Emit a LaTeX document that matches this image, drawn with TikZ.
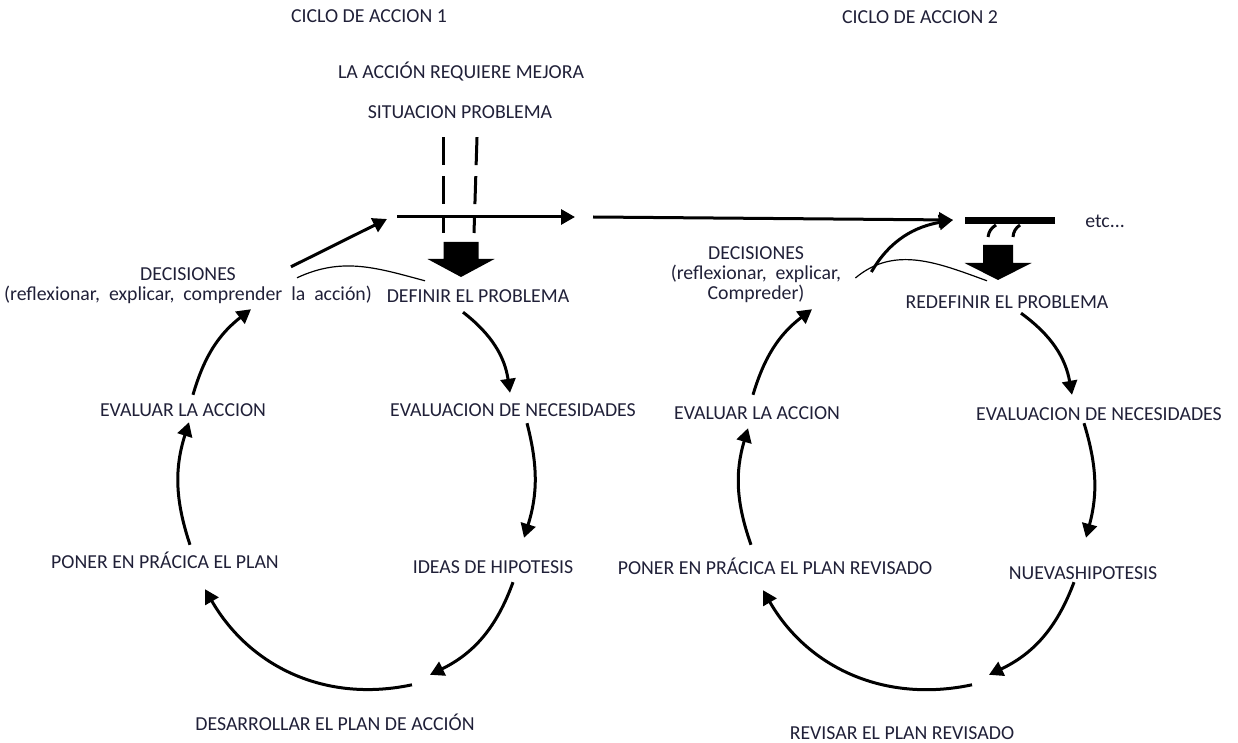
\documentclass[tikz,border=0pt]{standalone}
\usepackage{fontspec}
\setmainfont{Carlito}
\usetikzlibrary{arrows.meta}
\definecolor{ink}{RGB}{32,32,56}
\begin{document}
\begin{tikzpicture}[x=1pt,y=1pt,
        lbl/.style={inner sep=0pt, text height=12pt, text depth=0pt, font=\fontsize{19.8}{20}\selectfont, text=ink},
        declbl/.style={inner sep=0pt, align=center, font=\fontsize{19.8}{20}\selectfont, text=ink},
        cyc/.style={line width=3pt, -{Triangle[length=14pt,width=15pt]}},
        thinline/.style={line width=1.2pt},
        guide/.style={line width=3pt, dash pattern=on 28pt off 11pt}
    ]
        \useasboundingbox (0,0) rectangle (1238,742);

        \node[lbl] (tit1) at (369,725) {CICLO DE ACCION 1};
        \node[lbl] (tit2) at (920,724) {CICLO DE ACCION 2};
        \node[lbl] (mejora) at (461,669) {LA ACCIÓN REQUIERE MEJORA};
        \node[lbl] (sitprob) at (460,629) {SITUACION PROBLEMA};

        \node[declbl] (dec1) at (188,456) {DECISIONES\\(reflexionar,\ \ explicar,\ \ comprender\ \ la\ \ acción)};
        \node[lbl] (def) at (478,445) {DEFINIR EL PROBLEMA};
        \node[lbl] (eval1) at (513,331) {EVALUACION DE NECESIDADES};
        \node[lbl] (ideas) at (493,175) {IDEAS DE HIPOTESIS};
        \node[lbl] (desarr) at (335,18) {DESARROLLAR EL PLAN DE ACCIÓN};
        \node[lbl] (poner1) at (165,180) {PONER EN PRÁCICA EL PLAN};
        \node[lbl] (evalu1) at (183,331) {EVALUAR LA ACCION};

        \node[declbl] (dec2) at (756,467) {DECISIONES\\(reflexionar,\ \ explicar,\\Compreder)};
        \node[lbl] (redef) at (1007,439) {REDEFINIR EL PROBLEMA};
        \node[lbl] (eval2) at (1099,327) {EVALUACION DE NECESIDADES};
        \node[lbl] (nuevas) at (1083,169) {NUEVASHIPOTESIS};
        \node[lbl] (revisar) at (902,9) {REVISAR EL PLAN REVISADO};
        \node[lbl] (poner2) at (775,174) {PONER EN PRÁCICA EL PLAN REVISADO};
        \node[lbl] (evalu2) at (757,328) {EVALUAR LA ACCION};
        \node[lbl] (etc) at (1105,520) {etc...};

        \coordinate (hz1a) at (397,525);
        \coordinate (hz1b) at (575,525);
        \coordinate (hz2a) at (593,525);
        \coordinate (hz2b) at (953,522);
        \coordinate (blk1) at (461,500);
        \coordinate (blk2) at (998,497);

        \fill (blk1) ++(-17.5,0) -- ++(35,0) -- ++(0,-17) -- ++(16,0) -- ++(-33.5,-18) -- ++(-33.5,18) -- ++(16,0) -- cycle;
        \fill (blk2) ++(-15,0) -- ++(30,0) -- ++(0,-18) -- ++(18.5,0) -- ++(-33.5,-17) -- ++(-33.5,17) -- ++(18.5,0) -- cycle;

        \draw[guide] ([shift={(-17,-18)}]sitprob.south) -- ([shift={(-18,9)}]blk1);
        \draw[guide] ([shift={(17,-18)}]sitprob.south) -- ([shift={(13,9)}]blk1);
        \draw[line width=3pt] ([shift={(-2,20)}]blk2) to[bend right=25] ([shift={(-10,8)}]blk2);
        \draw[line width=3pt] ([shift={(22,20)}]blk2) to[bend right=25] ([shift={(15,8)}]blk2);

        \draw[cyc] (hz1a) -- (hz1b);
        \draw[cyc] (hz2a) -- (hz2b);
        \draw[line width=7pt] ([shift={(-30,1)}]etc.west) -- ++(-90,0);

        \draw[cyc] ([shift={(103,1)}]dec1.north) -- ([shift={(-10,-2)}]hz1a);
        \draw[thinline] ([shift={(109,-10)}]dec1.north) to[out=25,in=165] ([shift={(-53,10)}]def.north);
        \draw[thinline] ([shift={(14,-3)}]dec2.east) to[out=40,in=160] ([shift={(-20,16)}]redef.north);
        \draw[cyc] ([shift={(30,3)}]dec2.east) to[out=60,in=190] (hz2b);

        \draw[cyc] ([shift={(-15,-9)}]def.south) to[bend left=22] ([shift={(-3,12)}]eval1.north);
        \draw[cyc] ([shift={(14,-6)}]eval1.south) to[bend left=16] ([shift={(31,23)}]ideas.north);
        \draw[cyc] ([shift={(20,-9)}]ideas.south) to[bend left=22] ([shift={(95,43)}]desarr.north);
        \draw[cyc] ([shift={(77,33)}]desarr.north) to[out=192,in=-60] ([shift={(40,-21)}]poner1.south);
        \draw[cyc] ([shift={(25,11)}]poner1.north) to[bend left=18] ([shift={(6,-5)}]evalu1.south);
        \draw[cyc] ([shift={(10,10)}]evalu1.north) to[bend left=18] ([shift={(63,-5)}]dec1.south);

        \draw[cyc] ([shift={(14,-4)}]redef.south) to[bend left=22] ([shift={(-27,14)}]eval2.north);
        \draw[cyc] ([shift={(-15,-2)}]eval2.south) to[bend left=16] ([shift={(3,29)}]nuevas.north);
        \draw[cyc] ([shift={(-9,-3)}]nuevas.south) to[bend left=22] ([shift={(87,52)}]revisar.north);
        \draw[cyc] ([shift={(70,42)}]revisar.north) to[out=192,in=-60] ([shift={(-12,-16)}]poner2.south);
        \draw[cyc] ([shift={(-24,17)}]poner2.north) to[bend left=18] ([shift={(-9,-8)}]evalu2.south);
        \draw[cyc] ([shift={(-4,13)}]evalu2.north) to[bend left=18] ([shift={(56,-6)}]dec2.south);
    \end{tikzpicture}
\end{document}
